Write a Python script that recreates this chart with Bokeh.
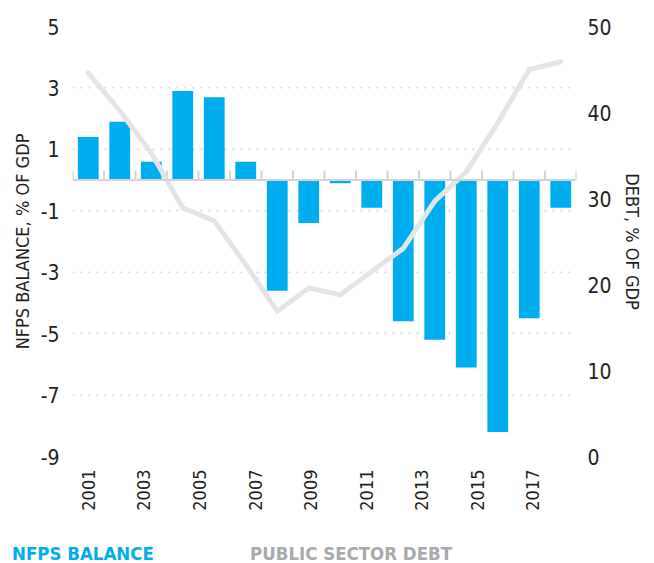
import math
from bokeh.plotting import figure
from bokeh.layouts import column
from bokeh.models import Range1d, LinearAxis, FixedTicker, Span, Div, ColumnDataSource
from bokeh.embed import file_html
from bokeh.resources import INLINE

# ---- data ----
balance = [1.4, 1.9, 0.6, 2.9, 2.7, 0.6, -3.6, -1.4, -0.1, -0.9, -4.6, -5.2, -6.1, -8.2, -4.5, -0.9]
debt = [44.6, 40.2, 35.3, 28.9, 27.4, 22.3, 16.9, 19.6, 18.8, 21.5, 24.2, 29.7, 33.1, 38.8, 45.0, 45.9]
year_ticks = [2001, 2003, 2005, 2007, 2009, 2011, 2013, 2015, 2017]
first_year, last_year = 2001, 2018
left_ticks = [-9, -7, -5, -3, -1, 1, 3, 5]
right_ticks = [0, 10, 20, 30, 40, 50]
legend_names = ["NFPS BALANCE", "PUBLIC SECTOR DEBT"]

FONT = "DejaVu Sans Condensed, Roboto, sans-serif"
BLUE = "#00AEEF"
GREY_LINE = "#E3E4E5"
GREY_TXT = "#A7A9AC"
DARK = "#231F20"

n = len(balance)
idx = list(range(n))
src = ColumnDataSource(dict(x=idx, bal=balance, debt=debt))

p = figure(width=654, height=520, output_backend="svg", toolbar_location=None,
           x_range=Range1d(-0.5, n - 0.5), y_range=Range1d(left_ticks[0], left_ticks[-1]),
           x_axis_location=None,
           min_border_left=72, min_border_right=78, min_border_top=26, min_border_bottom=64)
p.outline_line_color = None
p.background_fill_color = "white"
p.border_fill_color = "white"

# year-label axis spanning from first to last bar centre
span_years = (last_year - first_year) / (n - 1)
p.extra_x_ranges = {"yr": Range1d(first_year - 0.5 * span_years, first_year + (n - 0.5) * span_years)}
p.extra_y_ranges = {"debt": Range1d(right_ticks[0], right_ticks[-1])}

# grid
p.xgrid.visible = False
p.ygrid.ticker = FixedTicker(ticks=left_ticks)
p.ygrid.grid_line_color = "#D9DADB"
p.ygrid.grid_line_width = 2
p.ygrid.grid_line_dash = "2 6"

# left axis
ya = p.yaxis[0]
ya.ticker = FixedTicker(ticks=left_ticks)
ya.major_label_overrides = {t: str(t) for t in left_ticks}
ya.axis_line_color = None
ya.major_tick_line_color = None
ya.minor_tick_line_color = None
ya.major_label_standoff = 7
ya.major_label_text_font = FONT
ya.major_label_text_font_size = "21px"
ya.major_label_text_color = DARK
ya.axis_label = "NFPS BALANCE, % OF GDP"
ya.axis_label_text_font = FONT
ya.axis_label_text_font_size = "18px"
ya.axis_label_text_font_style = "normal"
ya.axis_label_text_color = DARK
ya.axis_label_standoff = 5

# right axis
ra = LinearAxis(y_range_name="debt", ticker=FixedTicker(ticks=right_ticks))
ra.axis_line_color = None
ra.major_tick_line_color = None
ra.minor_tick_line_color = None
ra.major_label_standoff = 5
ra.major_label_text_font = FONT
ra.major_label_text_font_size = "21px"
ra.major_label_text_color = DARK
ra.axis_label = "DEBT, % OF GDP"
ra.axis_label_text_font = FONT
ra.axis_label_text_font_size = "18px"
ra.axis_label_text_font_style = "normal"
ra.axis_label_text_color = DARK
ra.axis_label_standoff = 7
p.add_layout(ra, "right")

# bottom year axis
xa = LinearAxis(x_range_name="yr", ticker=FixedTicker(ticks=year_ticks))
xa.axis_line_color = None
xa.major_tick_line_color = None
xa.minor_tick_line_color = None
xa.major_label_orientation = math.pi / 2
xa.major_label_standoff = 7
xa.major_label_text_font = FONT
xa.major_label_text_font_size = "18px"
xa.major_label_text_color = DARK
p.add_layout(xa, "below")

# bars
p.vbar(x="x", top="bal", bottom=0, width=0.66, source=src, fill_color=BLUE, line_color=None)

# zero axis line with category boundary ticks
p.add_layout(Span(location=0, dimension="width", line_color="#D1D3D4", line_width=2))
bounds = [i - 0.5 for i in range(n + 1)]
p.segment(x0=bounds, x1=bounds, y0=[0] * len(bounds), y1=[0.3] * len(bounds),
          line_color="#D1D3D4", line_width=2)

# debt line
p.line(x="x", y="debt", source=src, y_range_name="debt", line_color=GREY_LINE,
       line_width=5, line_join="round", line_cap="round")

# legend row
legend_html = (
    '<div style="position:relative;width:654px;height:42px;'
    "font-family:'DejaVu Sans Condensed',Roboto,sans-serif;font-weight:bold;font-size:18.5px;"
    'line-height:1;white-space:nowrap;">'
    f'<span style="position:absolute;left:12px;top:25px;color:{BLUE}">{legend_names[0]}</span>'
    f'<span style="position:absolute;left:250px;top:25px;color:{GREY_TXT}">{legend_names[1]}</span>'
    '</div>'
)
leg = Div(text=legend_html, width=654, height=42, margin=(0, 0, 0, 0))

layout = column(p, leg, spacing=0)
open("out.html", "w").write(file_html(layout, INLINE))
